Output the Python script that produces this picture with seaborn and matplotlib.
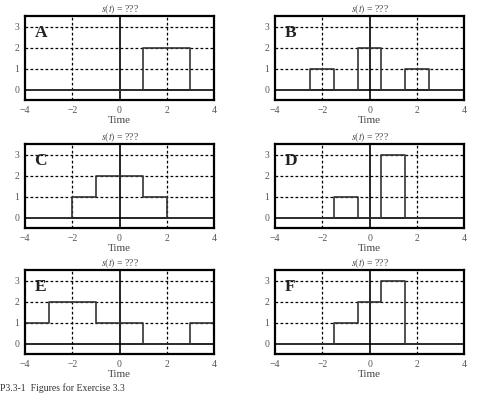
import numpy as np
import pandas as pd
import seaborn as sns
import matplotlib.pyplot as plt

# step signals: breakpoints and value held from each breakpoint onward
panels = ["A", "B", "C", "D", "E", "F"]
t_A = [-4, 1, 3, 4]
s_A = [0, 2, 0, 0]
t_B = [-4, -2.5, -1.5, -0.5, 0.5, 1.5, 2.5, 4]
s_B = [0, 1, 0, 2, 0, 1, 0, 0]
t_C = [-4, -2, -1, 1, 2, 4]
s_C = [0, 1, 2, 1, 0, 0]
t_D = [-4, -1.5, -0.5, 0.5, 1.5, 4]
s_D = [0, 1, 0, 3, 0, 0]
t_E = [-4, -3, -1, 1, 3, 4]
s_E = [1, 2, 1, 0, 1, 1]
t_F = [-4, -1.5, -0.5, 0.5, 1.5, 4]
s_F = [0, 1, 2, 3, 0, 0]

signals = {"A": (t_A, s_A), "B": (t_B, s_B), "C": (t_C, s_C),
           "D": (t_D, s_D), "E": (t_E, s_E), "F": (t_F, s_F)}

xticks = [-4, -2, 0, 2, 4]
yticks = [0, 1, 2, 3]

sns.set_style("white")
plt.rcParams["font.family"] = ["Liberation Serif", "DejaVu Serif"]
plt.rcParams["mathtext.fontset"] = "stix"

fig = plt.figure(figsize=(4.95, 3.94), dpi=100)

lefts = [0.0505, 0.5556]
bottoms = [0.746, 0.421, 0.1015]
w, h = 0.382, 0.213

for i, name in enumerate(panels):
    ax = fig.add_axes([lefts[i % 2], bottoms[i // 2], w, h])
    t, s = signals[name]
    df = pd.DataFrame({"t": t, "s": s})
    ax.axhline(0, color="black", lw=1.2, zorder=1)
    ax.axvline(0, color="black", lw=1.2, zorder=1)
    for gx in [-2, 2]:
        ax.axvline(gx, color="black", lw=0.9, ls=(0, (2.2, 1.8)), zorder=1)
    for gy in [1, 2, 3]:
        ax.axhline(gy, color="black", lw=0.9, ls=(0, (2.2, 1.8)), zorder=1)
    sns.lineplot(data=df, x="t", y="s", ax=ax, drawstyle="steps-post",
                 color="#333333", lw=1.2, zorder=2)
    ax.set_xlim(-4, 4)
    ax.set_ylim(-0.5, 3.5)
    ax.set_xticks(xticks)
    ax.set_yticks(yticks)
    ax.set_xticklabels([f"\u2212{abs(v)}" if v < 0 else str(v) for v in xticks])
    ax.tick_params(length=0, labelsize=7, colors="#555555", pad=4)
    ax.set_xlabel("Time", fontsize=8, color="#444444", labelpad=1)
    ax.set_ylabel("")
    ax.set_title("$s(t)$ = ???", fontsize=7, color="#444444", pad=3)
    for sp in ax.spines.values():
        sp.set_color("black")
        sp.set_linewidth(1.6)
    ax.text(-3.6, 2.3, name, fontsize=12.5, fontweight="bold",
            color="#222222", va="bottom")

fig.text(0.0, 0.002, "P3.3-1  Figures for Exercise 3.3", fontsize=7,
         color="#333333", va="bottom")

fig.savefig("out.png", dpi=100)
